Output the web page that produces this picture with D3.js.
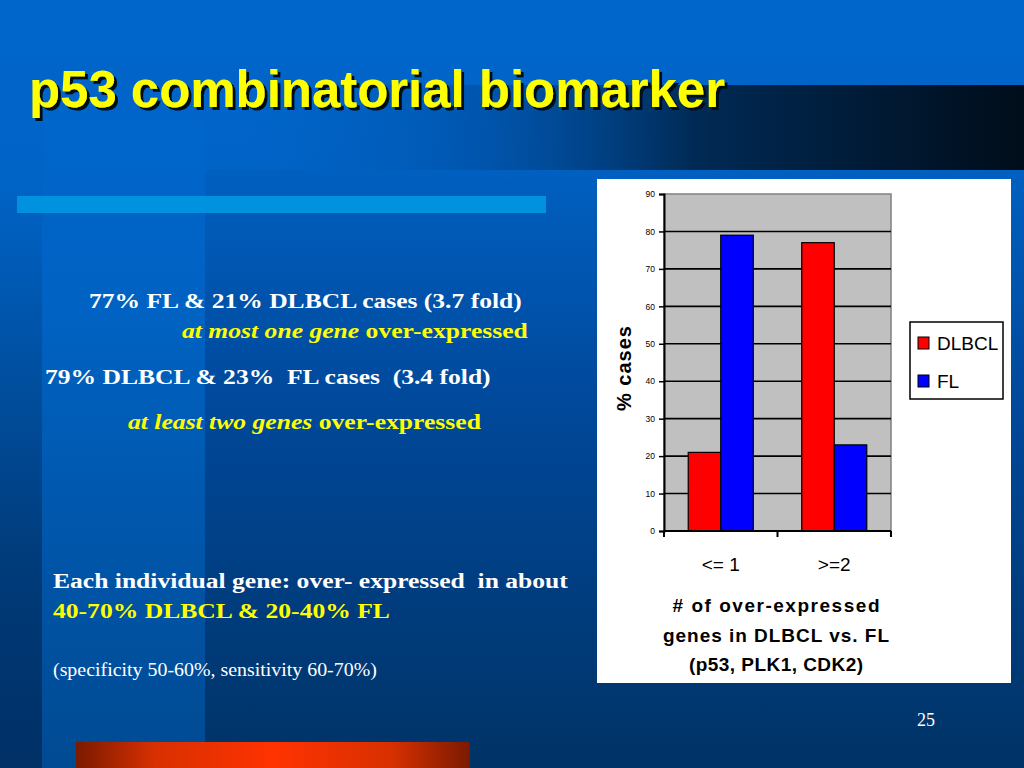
<!DOCTYPE html>
<html>
<head>
<meta charset="utf-8">
<script src="https://cdn.jsdelivr.net/npm/d3@7"></script>
<style>
  html, body { margin: 0; padding: 0; background: #003366; }
  svg { display: block; }
  text { white-space: pre; }
</style>
</head>
<body>
<svg id="slide" width="1024" height="768"></svg>
<script>
// ---- data ----
const categories = ["<= 1", ">=2"];
const seriesNames = ["DLBCL", "FL"];
const dlbclValues = [21, 77];
const flValues = [79, 23];
const yTicks = [0, 10, 20, 30, 40, 50, 60, 70, 80, 90];
const seriesColors = ["#FF0000", "#0000FF"];

const svg = d3.select("#slide");
const defs = svg.append("defs");

// ---- background ----
const bgGrad = defs.append("linearGradient").attr("id", "bgGrad").attr("x1", 0).attr("y1", 0).attr("x2", 0).attr("y2", 1);
bgGrad.append("stop").attr("offset", "0%").attr("stop-color", "#0066CC");
bgGrad.append("stop").attr("offset", "24%").attr("stop-color", "#0063C6");
bgGrad.append("stop").attr("offset", "75%").attr("stop-color", "#003a78");
bgGrad.append("stop").attr("offset", "100%").attr("stop-color", "#003066");
svg.append("rect").attr("width", 1024).attr("height", 768).attr("fill", "url(#bgGrad)");

const colGrad = defs.append("linearGradient").attr("id", "colGrad").attr("x1", 0).attr("y1", 0).attr("x2", 0).attr("y2", 1);
colGrad.append("stop").attr("offset", "0%").attr("stop-color", "#0066CC");
colGrad.append("stop").attr("offset", "30%").attr("stop-color", "#0062C2");
colGrad.append("stop").attr("offset", "100%").attr("stop-color", "#004A92");
svg.append("rect").attr("x", 42).attr("y", 120).attr("width", 163).attr("height", 648).attr("fill", "url(#colGrad)");

const rightGrad = defs.append("linearGradient").attr("id", "rightGrad").attr("x1", 0).attr("y1", 0).attr("x2", 0).attr("y2", 1);
rightGrad.append("stop").attr("offset", "0%").attr("stop-color", "#0060C0");
rightGrad.append("stop").attr("offset", "40%").attr("stop-color", "#00489a");
rightGrad.append("stop").attr("offset", "100%").attr("stop-color", "#003366");
svg.append("rect").attr("x", 205).attr("y", 170).attr("width", 819).attr("height", 598).attr("fill", "url(#rightGrad)");

// dark title banner
const banGrad = defs.append("linearGradient").attr("id", "banGrad").attr("x1", 0).attr("y1", 0).attr("x2", 1).attr("y2", 0);
banGrad.append("stop").attr("offset", "0%").attr("stop-color", "#0066CC").attr("stop-opacity", 0);
banGrad.append("stop").attr("offset", "35%").attr("stop-color", "#004a99").attr("stop-opacity", 0.6);
banGrad.append("stop").attr("offset", "60%").attr("stop-color", "#002a55");
banGrad.append("stop").attr("offset", "100%").attr("stop-color", "#000d1a");
svg.append("rect").attr("x", 200).attr("y", 85).attr("width", 824).attr("height", 85).attr("fill", "url(#banGrad)");

// light blue bar
svg.append("rect").attr("x", 17).attr("y", 196).attr("width", 529).attr("height", 17).attr("fill", "#0092DE");

// orange bar
const orGrad = defs.append("linearGradient").attr("id", "orGrad").attr("x1", 0).attr("y1", 0).attr("x2", 1).attr("y2", 0);
orGrad.append("stop").attr("offset", "0%").attr("stop-color", "#7a1a00");
orGrad.append("stop").attr("offset", "20%").attr("stop-color", "#d83000");
orGrad.append("stop").attr("offset", "50%").attr("stop-color", "#FF3300");
orGrad.append("stop").attr("offset", "80%").attr("stop-color", "#d83000");
orGrad.append("stop").attr("offset", "100%").attr("stop-color", "#7a1a00");
svg.append("rect").attr("x", 76).attr("y", 742).attr("width", 394).attr("height", 26).attr("fill", "url(#orGrad)");

// ---- title ----
const shadow = defs.append("filter").attr("id", "tshadow").attr("x", "-5%").attr("y", "-20%").attr("width", "110%").attr("height", "150%");
shadow.append("feDropShadow").attr("dx", 3).attr("dy", 3).attr("stdDeviation", 0.6).attr("flood-color", "#000814").attr("flood-opacity", 1);
svg.append("text").attr("x", 29).attr("y", 107).text("p53 combinatorial biomarker")
  .attr("font-family", "Liberation Sans, Arial, sans-serif").attr("font-weight", "bold").attr("font-size", 52)
  .attr("fill", "#FFFF00").attr("textLength", 696).attr("lengthAdjust", "spacingAndGlyphs")
  .attr("filter", "url(#tshadow)");

// ---- body text ----
function fitLine(sel, x, y, target) {
  const w = sel.node().getComputedTextLength();
  sel.attr("transform", `translate(${x},${y}) scale(${(target / w).toFixed(4)},1)`);
}
const serif = "Liberation Serif, Times New Roman, serif";
const lines = [
  { x: 89, y: 308, w: 433, size: 22, parts: [{ t: "77% FL & 21% DLBCL cases (3.7 fold)", c: "#FFFFFF", b: true, i: false }] },
  { x: 182, y: 338, w: 346, size: 22, parts: [{ t: "at most one gene", c: "#FFFF00", b: true, i: true }, { t: " over-expressed", c: "#FFFF00", b: true, i: false }] },
  { x: 45, y: 384, w: 446, size: 22, parts: [{ t: "79% DLBCL & 23%  FL cases  (3.4 fold)", c: "#FFFFFF", b: true, i: false }] },
  { x: 128, y: 429, w: 353, size: 22, parts: [{ t: "at least two genes", c: "#FFFF00", b: true, i: true }, { t: " over-expressed", c: "#FFFF00", b: true, i: false }] },
  { x: 53, y: 588, w: 515, size: 22, parts: [{ t: "Each individual gene: over- expressed  in about", c: "#FFFFFF", b: true, i: false }] },
  { x: 53, y: 618, w: 337, size: 22, parts: [{ t: "40-70% DLBCL & 20-40% FL", c: "#FFFF00", b: true, i: false }] },
  { x: 53, y: 676, w: 324, size: 18, parts: [{ t: "(specificity 50-60%, sensitivity 60-70%)", c: "#FFFFFF", b: false, i: false }] },
  { x: 917, y: 726, w: 18, size: 18, parts: [{ t: "25", c: "#FFFFFF", b: false, i: false }] }
];
lines.forEach(L => {
  const t = svg.append("text").attr("font-family", serif).attr("font-size", L.size);
  L.parts.forEach(p => {
    t.append("tspan").text(p.t).attr("fill", p.c)
      .attr("font-weight", p.b ? "bold" : "normal").attr("font-style", p.i ? "italic" : "normal");
  });
  fitLine(t, L.x, L.y, L.w);
});

// ---- chart panel ----
svg.append("rect").attr("x", 597).attr("y", 179).attr("width", 414).attr("height", 504).attr("fill", "#FFFFFF");

const plot = { left: 664, right: 891, top: 194, bottom: 531 };
const y = d3.scaleLinear().domain([0, 90]).range([plot.bottom, plot.top]);
const x0 = d3.scaleBand().domain(categories).range([plot.left, plot.right]).paddingInner(0.427).paddingOuter(0.2135);
const x1 = d3.scaleBand().domain(seriesNames).range([0, x0.bandwidth()]);
const sans = "Liberation Sans, Arial, sans-serif";

svg.append("rect").attr("x", plot.left).attr("y", plot.top).attr("width", plot.right - plot.left).attr("height", plot.bottom - plot.top)
  .attr("fill", "#C0C0C0").attr("stroke", "#808080").attr("stroke-width", 1.5);

// gridlines
svg.append("g").selectAll("line").data(yTicks.filter(d => d > 0 && d < 90)).join("line")
  .attr("x1", plot.left).attr("x2", plot.right).attr("y1", d => y(d)).attr("y2", d => y(d))
  .attr("stroke", "#000").attr("stroke-width", 1.6);

// bars
const rows = categories.map((c, i) => ({ cat: c, vals: [dlbclValues[i], flValues[i]] }));
const gBars = svg.append("g");
rows.forEach(r => {
  r.vals.forEach((v, j) => {
    gBars.append("rect")
      .attr("x", x0(r.cat) + x1(seriesNames[j]))
      .attr("y", y(v)).attr("width", x1.bandwidth()).attr("height", y(0) - y(v))
      .attr("fill", seriesColors[j]).attr("stroke", "#000").attr("stroke-width", 1.2);
  });
});

// y axis
const yAxis = d3.axisLeft(y).tickValues(yTicks).tickSize(5).tickPadding(4);
const gy = svg.append("g").attr("transform", `translate(${plot.left},0)`).call(yAxis);
gy.select(".domain").attr("stroke", "#000").attr("stroke-width", 2);
gy.selectAll(".tick line").attr("stroke", "#000").attr("stroke-width", 1.5);
gy.selectAll(".tick text").attr("font-family", sans).attr("font-size", 8.5).attr("fill", "#000");

// x axis
const xAxis = d3.axisBottom(x0).tickSize(0).tickFormat("");
const gx = svg.append("g").attr("transform", `translate(0,${plot.bottom})`).call(xAxis);
gx.select(".domain").attr("stroke", "#000").attr("stroke-width", 2).attr("d", `M${plot.left},0H${plot.right}`);
const xTickPos = [plot.left, (plot.left + plot.right) / 2, plot.right];
gx.selectAll(".sep").data(xTickPos).join("line").attr("class", "sep")
  .attr("x1", d => d).attr("x2", d => d).attr("y1", 0).attr("y2", 6).attr("stroke", "#000").attr("stroke-width", 2);
svg.append("g").selectAll("text").data(categories).join("text")
  .attr("x", d => x0(d) + x0.bandwidth() / 2).attr("y", 571).attr("text-anchor", "middle")
  .attr("font-family", sans).attr("font-size", 19).attr("fill", "#000").text(d => d);

// y title
svg.append("text").attr("transform", "translate(631,368) rotate(-90)").attr("text-anchor", "middle")
  .attr("font-family", sans).attr("font-weight", "bold").attr("font-size", 20).attr("letter-spacing", 1)
  .attr("fill", "#000").text("% cases");

// x title
const xTitle = [
  { t: "# of over-expressed", y: 612, w: 207 },
  { t: "genes in DLBCL vs. FL", y: 642, w: 226 },
  { t: "(p53, PLK1, CDK2)", y: 671, w: 174 }
];
xTitle.forEach(l => {
  svg.append("text").attr("x", 776 - l.w / 2).attr("y", l.y)
    .attr("font-family", sans).attr("font-weight", "bold").attr("font-size", 19).attr("fill", "#000")
    .attr("textLength", l.w).attr("lengthAdjust", "spacing").text(l.t);
});

// legend
svg.append("rect").attr("x", 910).attr("y", 322).attr("width", 93).attr("height", 77)
  .attr("fill", "#FFFFFF").attr("stroke", "#000").attr("stroke-width", 1.5);
const legY = [343, 381];
seriesNames.forEach((s, i) => {
  svg.append("rect").attr("x", 918).attr("y", legY[i] - 6).attr("width", 11).attr("height", 12)
    .attr("fill", seriesColors[i]).attr("stroke", "#000").attr("stroke-width", 1);
  svg.append("text").attr("x", 937).attr("y", legY[i] + 7).attr("font-family", sans).attr("font-size", 19)
    .attr("fill", "#000").text(s);
});
</script>
</body>
</html>
